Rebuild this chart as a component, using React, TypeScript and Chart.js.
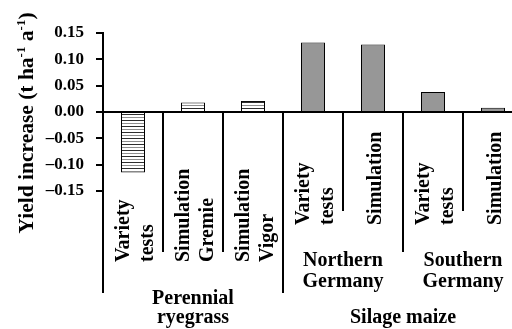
import React, { useEffect, useRef } from "react";
import { Chart, registerables } from "chart.js";

Chart.register(...registerables);

// ---- data ----
const categoryLabels: string[][] = [
  ["Variety", "tests"],
  ["Simulation", "Gremie"],
  ["Simulation", "Vigor"],
  ["Variety", "tests"],
  ["Simulation"],
  ["Variety", "tests"],
  ["Simulation"],
];
const yieldIncrease = [-0.115, 0.018, 0.021, 0.132, 0.128, 0.038, 0.008];
const hatched = [true, true, true, false, false, false, false];

const cropLabels: string[][] = [["Perennial", "ryegrass"], ["Silage maize"]];
const cropStart = [0, 3];

const regionLabels: string[][] = [["Northern", "Germany"], ["Southern", "Germany"]];
const regionStart = [3, 5];
const regionEnd = [5, 7];

const yMin = -0.15;
const yMax = 0.15;
const yStep = 0.05;
const tickLabels = ["–0.15", "–0.10", "–0.05", "0.00", "0.05", "0.10", "0.15"];

const yTitleParts: [string, boolean][] = [
  ["Yield increase (t ha", false],
  ["-1", true],
  [" a", false],
  ["-1", true],
  [")", false],
];

const FONT = "'Liberation Serif'";

function makeHatch(ctx: CanvasRenderingContext2D): CanvasPattern | string {
  const c = document.createElement("canvas");
  c.width = 4;
  c.height = 6;
  const g = c.getContext("2d");
  if (!g) return "#fff";
  g.fillStyle = "#ffffff";
  g.fillRect(0, 0, 4, 6);
  g.fillStyle = "#2e2e2e";
  g.fillRect(0, 0, 4, 1);
  g.fillStyle = "#8f8f8f";
  g.fillRect(0, 3, 4, 1);
  return ctx.createPattern(c, "repeat") || "#fff";
}

const groupPlugin = {
  id: "groupLabels",
  afterDraw(chart: any) {
    const ctx: CanvasRenderingContext2D = chart.ctx;
    const area = chart.chartArea;
    const xs = chart.scales.x;
    const ys = chart.scales.y;
    const n = categoryLabels.length;
    const catW = (area.right - area.left) / n;
    const zeroY = ys.getPixelForValue(0);
    const bottom = area.bottom;
    const inRegion = (i: number) => regionStart.some((s, j) => i >= s && i < regionEnd[j]);

    ctx.save();
    ctx.strokeStyle = "#000";
    ctx.lineWidth = 2;
    for (let k = 0; k <= n; k++) {
      const bx = Math.round(area.left + k * catW);
      let end: number;
      if (k === n || cropStart.includes(k)) end = bottom + 102;
      else if (regionStart.includes(k) || !inRegion(k)) end = bottom + 61;
      else end = bottom + 20;
      ctx.beginPath();
      ctx.moveTo(bx, zeroY);
      ctx.lineTo(bx, end);
      ctx.stroke();
    }

    ctx.fillStyle = "#000";
    ctx.font = `bold 20px ${FONT}`;
    ctx.textBaseline = "alphabetic";

    ctx.textAlign = "left";
    const LH = 24;
    categoryLabels.forEach((lines, i) => {
      const cx = xs.getPixelForValue(i);
      const startY = inRegion(i) ? bottom + 34 : bottom + 71;
      lines.forEach((t, j) => {
        const bx = cx + 8 - (LH / 2) * (lines.length - 1) + LH * j;
        ctx.save();
        ctx.translate(bx, startY);
        ctx.rotate(-Math.PI / 2);
        ctx.fillText(t, 0, 0);
        ctx.restore();
      });
    });

    ctx.textAlign = "center";
    regionLabels.forEach((lines, r) => {
      const cx = area.left + ((regionStart[r] + regionEnd[r]) / 2) * catW;
      lines.forEach((t, j) => {
        ctx.fillText(t, cx, bottom + 75 + 21 * j);
      });
    });

    cropLabels.forEach((lines, c) => {
      const s = cropStart[c];
      const e = c + 1 < cropStart.length ? cropStart[c + 1] : n;
      const cx = area.left + ((s + e) / 2) * catW;
      lines.forEach((t, j) => {
        ctx.fillText(t, cx, bottom + 132 - 19.5 * (lines.length - 1 - j));
      });
    });

    const fMain = `bold 21.5px ${FONT}`;
    const fSup = `bold 13px ${FONT}`;
    let total = 0;
    const widths = yTitleParts.map(([t, sup]) => {
      ctx.font = sup ? fSup : fMain;
      const w = ctx.measureText(t).width;
      total += w;
      return w;
    });
    const centerY = area.top + 90;
    ctx.translate(33, centerY + total / 2);
    ctx.rotate(-Math.PI / 2);
    ctx.textAlign = "left";
    let off = 0;
    yTitleParts.forEach(([t, sup], i) => {
      ctx.font = sup ? fSup : fMain;
      ctx.fillText(t, off, sup ? -8 : 0);
      off += widths[i];
    });
    ctx.restore();
  },
};

export default function App() {
  const ref = useRef<HTMLCanvasElement | null>(null);

  useEffect(() => {
    const canvas = ref.current;
    if (!canvas) return;
    const ctx = canvas.getContext("2d");
    if (!ctx) return;
    let chart: Chart | null = null;
    let cancelled = false;

    const build = () => {
      if (cancelled) return;
      const pattern = makeHatch(ctx);
      chart = new Chart(canvas, {
        type: "bar",
        data: {
          labels: categoryLabels.map((l) => l.join(" ")),
          datasets: [
            {
              data: yieldIncrease,
              backgroundColor: hatched.map((h) => (h ? pattern : "#979797")) as any,
              borderColor: "#000",
              borderWidth: 1,
              barPercentage: 0.4,
              categoryPercentage: 1,
            },
          ],
        },
        options: {
          animation: false,
          responsive: false,
          layout: { padding: { top: 33, bottom: 138, left: 0, right: 7 } },
          plugins: {
            legend: { display: false },
            tooltip: { enabled: false },
            title: { display: false },
          },
          scales: {
            x: { display: false },
            y: {
              min: yMin,
              max: yMax,
              afterFit: (s: any) => {
                s.width = 103;
              },
              ticks: {
                stepSize: yStep,
                color: "#000",
                padding: 12,
                font: { family: FONT, weight: "bold", size: 17 },
                callback: (v: any) => tickLabels[Math.round((Number(v) - yMin) / yStep)],
              },
              grid: {
                color: (c: any) =>
                  c.tick && Math.abs(c.tick.value) < 1e-9 ? "#000" : "rgba(0,0,0,0)",
                tickColor: "#000",
                tickLength: 7,
                lineWidth: 2,
                drawOnChartArea: true,
              },
              border: { display: true, color: "#000", width: 2 },
            },
          },
        } as any,
        plugins: [groupPlugin],
      });
    };

    const fontsApi: any = (document as any).fonts;
    if (fontsApi && fontsApi.load) {
      Promise.all([
        fontsApi.load(`bold 20px ${FONT}`),
        fontsApi.load(`bold 17px ${FONT}`),
      ])
        .catch(() => null)
        .then(build);
    } else {
      build();
    }

    return () => {
      cancelled = true;
      if (chart) chart.destroy();
    };
  }, []);

  return (
    <div
      style={{
        position: "absolute",
        left: 0,
        top: 0,
        width: 512,
        height: 329,
        overflow: "hidden",
        background: "#fff",
      }}
    >
      <canvas ref={ref} width={530} height={329} style={{ display: "block" }} />
    </div>
  );
}
